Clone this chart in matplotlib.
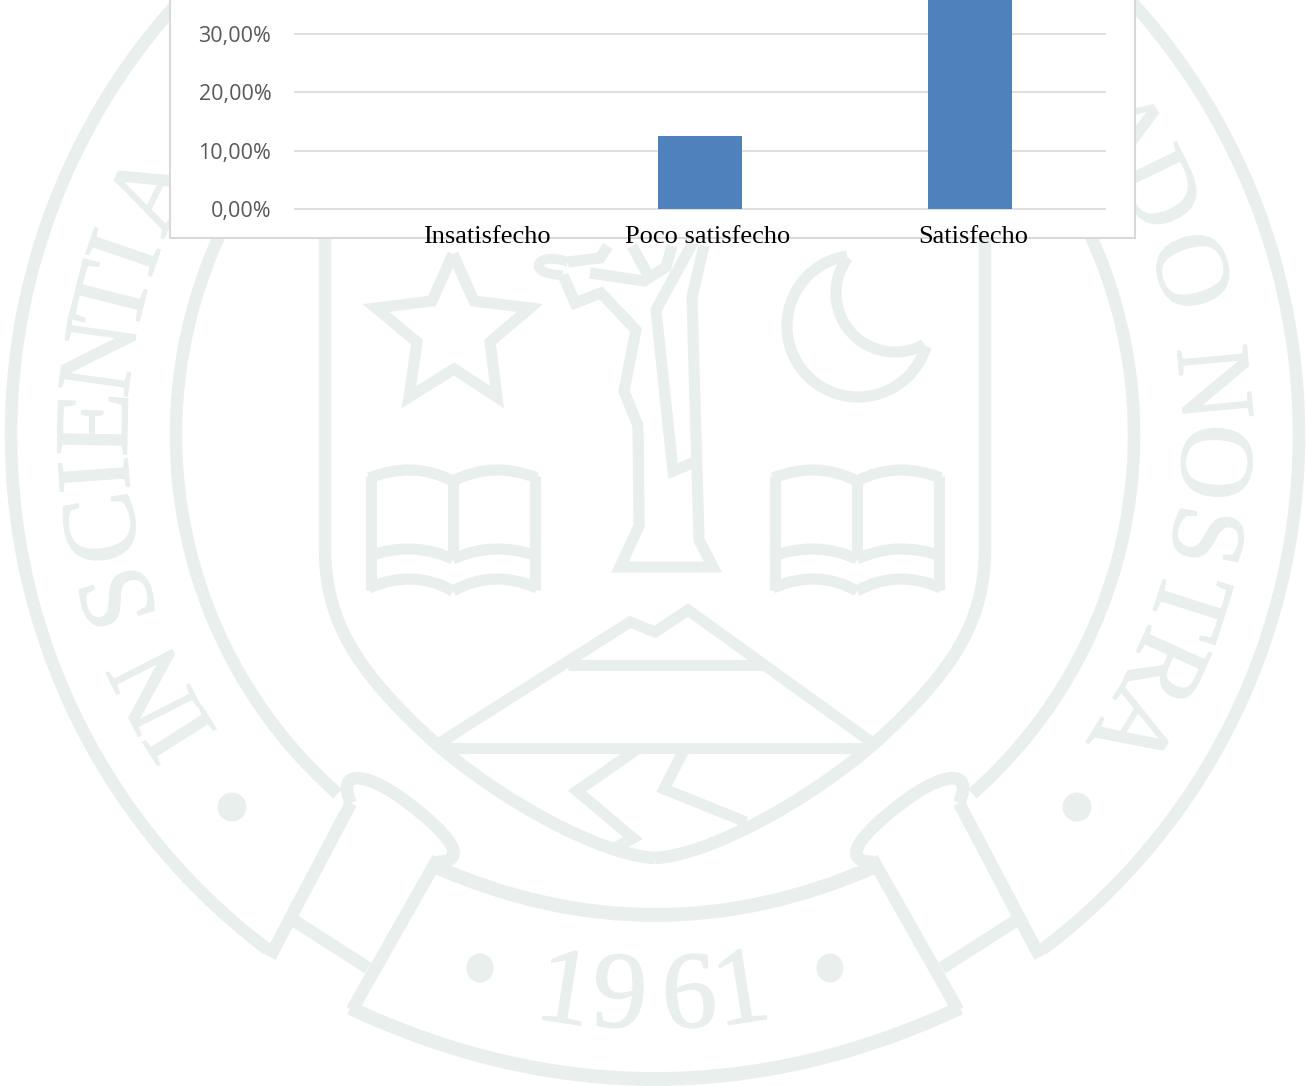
import numpy as np
import matplotlib
matplotlib.use("Agg")
import matplotlib.pyplot as plt
import matplotlib.ticker as mtick
import matplotlib.patheffects as pe
from matplotlib.path import Path
from matplotlib.patches import PathPatch, Rectangle, Ellipse

categories = ["Insatisfecho", "Poco satisfecho", "Satisfecho"]
percent = [0.0, 12.5, 50.0]
y_ticks = [0, 10, 20, 30]

# seal lettering: clockwise angle from the top of the ring
left_letters = list("INSCIENTIA")
left_angles = [-122.3, -116.9, -106.9, -99.6, -94.1, -88.9, -82, -75.8, -71, -64.2]
right_letters = list("ADONOSTRA")
right_angles = [57, 64, 73, 84.7, 92.8, 100.4, 107.6, 114.5, 121.4]
year_digits = list("1961")

WIDTH, HEIGHT = 1307, 1086
SEAL = "#e8efec"
CX, CY = 655, 435
THICKEN = [pe.withStroke(linewidth=1, foreground=SEAL)]


def stroke(ax, pts, lw=9, closed=False):
    pts = np.array(pts, dtype=float)
    if closed:
        pts = np.vstack([pts, pts[:1]])
    ax.plot(pts[:, 0], pts[:, 1], color=SEAL, lw=lw,
            solid_capstyle="butt", solid_joinstyle="miter", zorder=1)


def bend(ax, p0, mid, p2, lw=9):
    # quadratic curve forced through the mid point
    p0, mid, p2 = np.array(p0, float), np.array(mid, float), np.array(p2, float)
    ctrl = 2 * mid - (p0 + p2) / 2
    path = Path([p0, ctrl, p2], [Path.MOVETO, Path.CURVE3, Path.CURVE3])
    ax.add_patch(PathPatch(path, fc="none", ec=SEAL, lw=lw, capstyle="butt", zorder=1))


def cubic(ax, points, lw=9):
    codes = [Path.MOVETO] + [Path.CURVE4] * (len(points) - 1)
    ax.add_patch(PathPatch(Path(points, codes), fc="none", ec=SEAL, lw=lw,
                           capstyle="butt", zorder=1))


def arc(ax, cx, cy, r, a0, a1, lw=9):
    a = np.radians(np.linspace(a0, a1, 300))
    stroke(ax, np.column_stack([cx + r * np.sin(a), cy - r * np.cos(a)]), lw)


def mirror(points):
    return [(2 * CX - x, y) for x, y in points]


def draw_book(ax, dx):
    left, spine, right = 371 + dx, 453 + dx, 535 + dx
    for top, sag in [(478, 470), (556, 549), (588, 579)]:
        bend(ax, (left - 2, top), ((left + spine) / 2, sag), (spine, top + 3), lw=8)
        bend(ax, (spine, top + 3), ((right + spine) / 2, sag), (right + 2, top), lw=8)
    stroke(ax, [(left, 476), (left, 590)], 8)
    stroke(ax, [(right, 476), (right, 590)], 8)
    stroke(ax, [(spine, 478), (spine, 556)], 8)


def draw_seal(ax):
    arc(ax, CX, CY, 644, -143, 143, 9)
    arc(ax, CX, CY, 479, -138.5, 138.5, 9)

    # shield
    for flip in (lambda p: p, mirror):
        cubic(ax, flip([(325, 230), (325, 340), (325, 440), (325, 548),
                        (325, 620), (355, 670), (434, 742),
                        (500, 800), (600, 855), (655, 858)]), 9)

    # star
    stroke(ax, [(453, 254), (474, 301), (530, 308), (490, 342), (497, 397),
                (454, 369), (409, 397), (417, 342), (376, 308), (432, 301)],
           8, closed=True)

    # moon
    arc(ax, 858, 326, 71, -9, -253.4, 8)
    arc(ax, 895, 293, 59, -53, -209.5, 8)

    draw_book(ax, 0)
    draw_book(ax, 404)

    # figure on the tree
    stroke(ax, [(704, 246), (692, 297), (699, 540), (713, 567), (620, 567),
                (639, 526), (638, 426), (624, 391), (636, 330), (601, 293),
                (575, 303), (563, 275)], 8)
    stroke(ax, [(693, 242), (656, 310), (673, 471), (693, 463)], 8)
    stroke(ax, [(590, 273), (644, 281), (666, 267), (672, 246)], 8)
    stroke(ax, [(632, 246), (648, 275)], 8)
    stroke(ax, [(568, 262), (600, 258), (608, 246)], 8)
    cubic(ax, [(568, 262), (535, 250), (525, 275), (563, 275)], 7)

    # mountains and river
    stroke(ax, [(438, 744), (630, 622), (655, 632), (688, 610), (874, 744)], 8)
    stroke(ax, [(568, 665), (762, 665)], 8)
    stroke(ax, [(443, 748), (867, 748)], 8)
    stroke(ax, [(639, 748), (577, 791), (633, 838), (615, 848)], 8)
    stroke(ax, [(684, 750), (664, 789), (746, 822)], 8)

    # ribbon
    bend(ax, (436, 867), (655, 915), (874, 867), lw=10)
    bend(ax, (350, 1008), (655, 1079), (960, 1008), lw=10)
    for flip in (lambda p: p, mirror):
        stroke(ax, flip([(438, 858), (352, 1010)]), 9)
        stroke(ax, flip([(351, 803), (270, 957)]), 9)
        stroke(ax, flip([(290, 918), (368, 968)]), 9)
        cubic(ax, flip([(351, 803), (335, 768), (368, 772), (408, 803),
                        (448, 833), (472, 862), (436, 862)]), 9)

    for x, y, w, h in [(232, 807, 29, 29), (1077, 807, 29, 29),
                       (480, 968, 27, 29), (830, 968, 27, 29)]:
        ax.add_patch(Ellipse((x, y), w, h, color=SEAL, lw=0, zorder=1))

    # digits follow the curve of the ribbon
    for digit, x, y, rot in zip(year_digits, [560, 618, 691, 746],
                                [1022, 1027, 1027, 1022], [-9, -3, 3, 9]):
        ax.text(x, y, digit, family="Liberation Serif", fontsize=79, color=SEAL,
                rotation=rot, rotation_mode="anchor", ha="center", va="baseline",
                path_effects=THICKEN, zorder=1)

    for letters, angles in [(left_letters, left_angles), (right_letters, right_angles)]:
        for letter, angle in zip(letters, angles):
            a = np.radians(angle)
            ax.text(CX + 528 * np.sin(a), CY - 528 * np.cos(a), letter,
                    family="Liberation Serif", fontsize=76, color=SEAL,
                    rotation=-angle, rotation_mode="anchor",
                    ha="center", va="baseline", path_effects=THICKEN, zorder=1)


def main():
    fig = plt.figure(figsize=(WIDTH / 100, HEIGHT / 100), dpi=100)

    # page layer in image pixels
    page = fig.add_axes([0, 0, 1, 1], zorder=0)
    page.set_xlim(0, WIDTH)
    page.set_ylim(HEIGHT, 0)
    page.axis("off")
    draw_seal(page)
    page.add_patch(Rectangle((170, -20), 965, 258, fc="white", ec="#d9d9d9",
                             lw=1.5, zorder=2))

    ax = fig.add_axes([295 / WIDTH, 1 - 209 / HEIGHT, 810 / WIDTH, 209 / HEIGHT], zorder=1)
    ax.patch.set_alpha(0)
    x = np.arange(len(categories))
    ax.bar(x, percent, width=0.313, color="#4f81bd", zorder=3)
    ax.set_xlim(-0.5, 2.5)
    ax.set_ylim(0, 35.79)
    ax.set_yticks(y_ticks)
    ax.yaxis.set_major_formatter(mtick.FuncFormatter(lambda v, _: f"{v:.2f}%".replace(".", ",")))
    ax.tick_params(axis="y", length=0, pad=17, labelsize=15.5, labelcolor="#595959")
    for label in ax.get_yticklabels():
        label.set_family("Open Sans")
    ax.set_xticks([])
    ax.grid(axis="y", color="#d9d9d9", lw=1.2, zorder=1)
    for line in ax.get_ygridlines():
        line.set_clip_on(False)
    ax.set_axisbelow(True)
    for spine in ax.spines.values():
        spine.set_visible(False)

    # the category names sit loose over the frame, off their bars
    for name, px in zip(categories, [487, 708, 973]):
        page.text(px, 243, name, family="Liberation Serif", fontsize=19,
                  color="black", ha="center", va="baseline", zorder=5)

    fig.savefig("out.png", dpi=100)


if __name__ == '__main__':
    main()
